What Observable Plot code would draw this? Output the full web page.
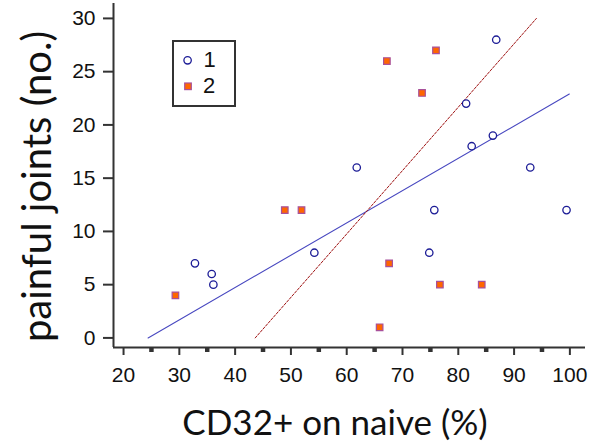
<!DOCTYPE html>
<html>
<head>
<meta charset="utf-8">
<script src="https://cdn.jsdelivr.net/npm/d3@7"></script>
<script src="https://cdn.jsdelivr.net/npm/@observablehq/plot@0.6"></script>
<style>
  html, body { margin: 0; padding: 0; background: #ffffff; }
  #wrap { position: relative; width: 589px; height: 445px; overflow: hidden; background: #fff; }
  #chart svg { display: block; }
  #legend { position: absolute; left: 171.7px; top: 39.7px; }
  #xtitle { position: absolute; left: 0; top: 392px; display: block; }
</style>
</head>
<body>
<div id="wrap">
  <div id="chart"></div>
  <svg id="legend" width="66" height="68"></svg>
  <svg id="xtitle" width="589" height="53"></svg>
</div>
<script>
// ---- data ----
const xDomain = [18.2, 102.8];
const yDomain = [-0.9, 31.4];
const xTicks = [20, 30, 40, 50, 60, 70, 80, 90, 100];
const xMinorTicks = [25, 35, 45, 55, 65, 75, 85, 95];
const yTicks = [0, 5, 10, 15, 20, 25, 30];

const seriesNames = ["1", "2"];
const series1X = [32.8, 35.8, 36.1, 54.2, 61.8, 74.8, 75.7, 81.4, 82.4, 86.2, 86.8, 92.9, 99.4];
const series1Y = [7, 6, 5, 8, 16, 8, 12, 22, 18, 19, 28, 16, 12];
const series2X = [29.3, 48.9, 51.9, 65.9, 67.2, 67.6, 73.5, 76.0, 76.7, 84.2];
const series2Y = [4, 12, 12, 1, 26, 7, 23, 27, 5, 5];

const fit1X = [24.4, 99.9];
const fit1Y = [0, 22.9];
const fit2X = [43.6, 94.0];
const fit2Y = [0, 30];

const xTitle = "CD32+ on naive (%)";
const yTitle = "painful joints (no.)";

// ---- styles ----
const circleStroke = "#1c1c96";
const squareFill = "#ff6600";
const squareStroke = "#a8509a";
const fit1Color = "#4848c0";
const fit2Color = "#a01515";
const axisColor = "#333333";

const toRows = (xs, ys) => xs.map((x, i) => ({x, y: ys[i]}));
const s1 = toRows(series1X, series1Y);
const s2 = toRows(series2X, series2Y);
const f1 = toRows(fit1X, fit1Y);
const f2 = toRows(fit2X, fit2Y);

const chart = Plot.plot({
  width: 589,
  height: 392,
  marginLeft: 113,
  marginRight: 4,
  marginTop: 3,
  marginBottom: 45,
  style: {fontFamily: "'Liberation Sans', Arial, sans-serif", fontSize: "21px", color: "#111", background: "transparent"},
  x: {domain: xDomain},
  y: {domain: yDomain},
  marks: [
    Plot.axisX({ticks: xTicks, tickSize: 8, tickPadding: 12, strokeWidth: 2, stroke: axisColor, label: null, fontSize: 21, fill: "#111"}),
    Plot.axisX({ticks: xMinorTicks, tickSize: 5, strokeWidth: 4.5, stroke: axisColor, text: null, label: null}),
    Plot.axisY({ticks: yTicks, tickSize: 10, tickPadding: 8, strokeWidth: 2, stroke: axisColor, label: null, fontSize: 21, fill: "#111"}),
    Plot.ruleX([xDomain[0]], {stroke: axisColor, strokeWidth: 2}),
    Plot.ruleY([yDomain[0]], {stroke: axisColor, strokeWidth: 2}),
    Plot.line(f1, {x: "x", y: "y", stroke: fit1Color, strokeWidth: 1.1}),
    Plot.line(f2, {x: "x", y: "y", stroke: fit2Color, strokeWidth: 1, strokeDasharray: "2.5,1.5"}),
    Plot.dot(s1, {x: "x", y: "y", r: 3.7, stroke: circleStroke, fill: "white", strokeWidth: 1.3}),
    Plot.dot(s2, {x: "x", y: "y", symbol: "square", r: 3.7, fill: squareFill, stroke: squareStroke, strokeWidth: 1.2}),
    Plot.text([yTitle], {frameAnchor: "left", rotate: -90, dx: -75, dy: 11, fontSize: 40, fontFamily: "Lato, 'Open Sans', sans-serif", fill: "#111", textAnchor: "middle", lineAnchor: "middle"})
  ]
});
document.getElementById("chart").appendChild(chart);

// ---- legend ----
const leg = d3.select("#legend");
leg.append("rect").attr("x", 1).attr("y", 1).attr("width", 62).attr("height", 65)
  .attr("fill", "white").attr("stroke", axisColor).attr("stroke-width", 2);
leg.append("circle").attr("cx", 15.6).attr("cy", 20.3).attr("r", 3.7)
  .attr("fill", "white").attr("stroke", circleStroke).attr("stroke-width", 1.3);
leg.append("rect").attr("x", 16 - 3.3).attr("y", 46.3 - 3.3).attr("width", 6.6).attr("height", 6.6)
  .attr("fill", squareFill).attr("stroke", squareStroke).attr("stroke-width", 1.2);
leg.append("text").attr("x", 31.5).attr("y", 27).text(seriesNames[0])
  .attr("font-family", "'Liberation Sans', Arial, sans-serif").attr("font-size", 22).attr("fill", "#111");
leg.append("text").attr("x", 31).attr("y", 53).text(seriesNames[1])
  .attr("font-family", "'Liberation Sans', Arial, sans-serif").attr("font-size", 22).attr("fill", "#111");

// ---- x title ----
d3.select("#xtitle").append("text").attr("x", 335).attr("y", 43).attr("text-anchor", "middle")
  .attr("font-family", "Lato, 'Open Sans', sans-serif").attr("font-size", 35).attr("fill", "#111")
  .text(xTitle);
</script>
</body>
</html>
